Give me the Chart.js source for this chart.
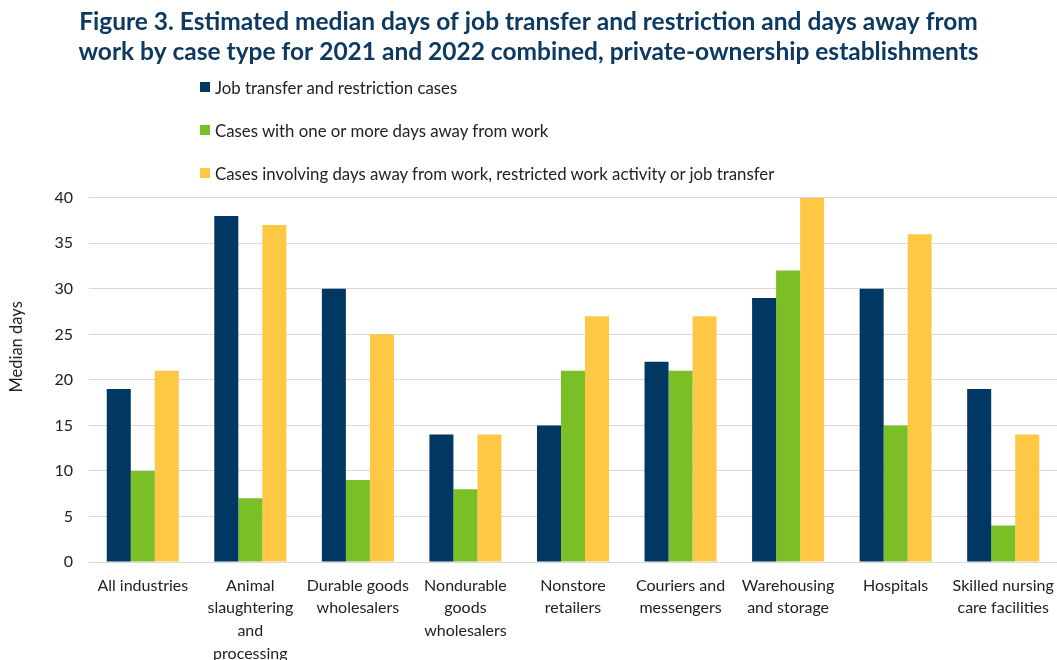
<!DOCTYPE html>
<html>
<head>
<meta charset="utf-8">
<script src="https://cdn.jsdelivr.net/npm/chart.js@4.4.1/dist/chart.umd.min.js"></script>
<style>
  html, body { margin: 0; padding: 0; background: #fff; }
  #wrap { position: relative; width: 1057px; height: 660px; }
  #legend { position: absolute; left: 200px; top: 77px; font: 16.8px Lato, sans-serif; color: #222; }
  #legend .row { height: 43px; display: flex; align-items: flex-start; }
  #legend .box { width: 10px; height: 10px; margin: 5px 5px 0 0; }
</style>
</head>
<body>
<div id="wrap">
  <canvas id="chart" width="1057" height="660"></canvas>
  <div id="legend"></div>
</div>
<script>
/* median days by industry, three case types */

const categories = [
  'All industries',
  ['Animal', 'slaughtering', 'and', 'processing'],
  ['Durable goods', 'wholesalers'],
  ['Nondurable', 'goods', 'wholesalers'],
  ['Nonstore', 'retailers'],
  ['Couriers and', 'messengers'],
  ['Warehousing', 'and storage'],
  'Hospitals',
  ['Skilled nursing', 'care facilities'],
];

const seriesNames = [
  'Job transfer and restriction cases',
  'Cases with one or more days away from work',
  'Cases involving days away from work, restricted work activity or job transfer',
];

const jobTransfer = [19, 38, 30, 14, 15, 22, 29, 30, 19];
const daysAway    = [10, 7, 9, 8, 21, 21, 32, 15, 4];
const combined    = [21, 37, 25, 14, 27, 27, 40, 36, 14];

const yTicks = [0, 5, 10, 15, 20, 25, 30, 35, 40];
const yTitle = 'Median days';

const COLORS = ['#013763', '#7abf25', '#fec844'];
const TEXT = '#222';
const GRID = '#d9d9d9';
const FONT = 'Lato, "Open Sans", sans-serif';

const datasets = [jobTransfer, daysAway, combined].map((vals, i) => ({
  label: seriesNames[i],
  data: vals,
  backgroundColor: COLORS[i],
  borderWidth: 0,
  categoryPercentage: 0.67,
  barPercentage: 1.0,
}));

// legend stacked vertically above the plot
const legendEl = document.getElementById('legend');
datasets.forEach(ds => {
  const row = document.createElement('div');
  row.className = 'row';
  row.innerHTML = `<span class="box" style="background:${ds.backgroundColor}"></span><span>${ds.label}</span>`;
  legendEl.appendChild(row);
});

// rotated y-axis title, sitting a little above the plot's middle
const yTitlePlugin = {
  id: 'yTitle',
  afterDraw(chart) {
    const { ctx, chartArea } = chart;
    ctx.save();
    ctx.translate(17, (chartArea.top + chartArea.bottom) / 2 - 33);
    ctx.rotate(-Math.PI / 2);
    ctx.font = `16.5px ${FONT}`;
    ctx.fillStyle = TEXT;
    ctx.textAlign = 'center';
    ctx.textBaseline = 'middle';
    ctx.fillText(yTitle, 0, 0);
    ctx.restore();
  },
};

new Chart(document.getElementById('chart'), {
  type: 'bar',
  data: { labels: categories, datasets },
  plugins: [yTitlePlugin],
  options: {
    responsive: false,
    animation: false,
    layout: { padding: 0 },
    plugins: {
      legend: { display: false },
      tooltip: { enabled: false },
      title: {
        display: true,
        text: [
          'Figure 3. Estimated median days of job transfer and restriction and days away from',
          'work by case type for 2021 and 2022 combined, private-ownership establishments',
        ],
        color: '#0e3a62',
        font: { family: FONT, size: 24.5, weight: 'bold', lineHeight: 1.22 },
        padding: { top: 7, bottom: 131 },
      },
    },
    scales: {
      x: {
        grid: { display: false, drawTicks: false },
        border: { display: true, color: GRID, width: 1 },
        ticks: {
          color: TEXT,
          font: { family: FONT, size: 16, lineHeight: 1.42 },
          autoSkip: false,
          maxRotation: 0,
          padding: 12,
        },
        afterFit: s => { s.height = 98; s.paddingRight = 0; s.paddingLeft = 0; },
      },
      y: {
        min: 0,
        max: 40,
        afterBuildTicks: s => { s.ticks = yTicks.map(v => ({ value: v })); },
        grid: { color: GRID, lineWidth: 1, drawTicks: false },
        border: { display: false },
        ticks: {
          color: TEXT,
          font: { family: FONT, size: 16 },
          padding: 16,
        },
        afterFit: s => { s.width = 89; },
      },
    },
  },
});
</script>
</body>
</html>
